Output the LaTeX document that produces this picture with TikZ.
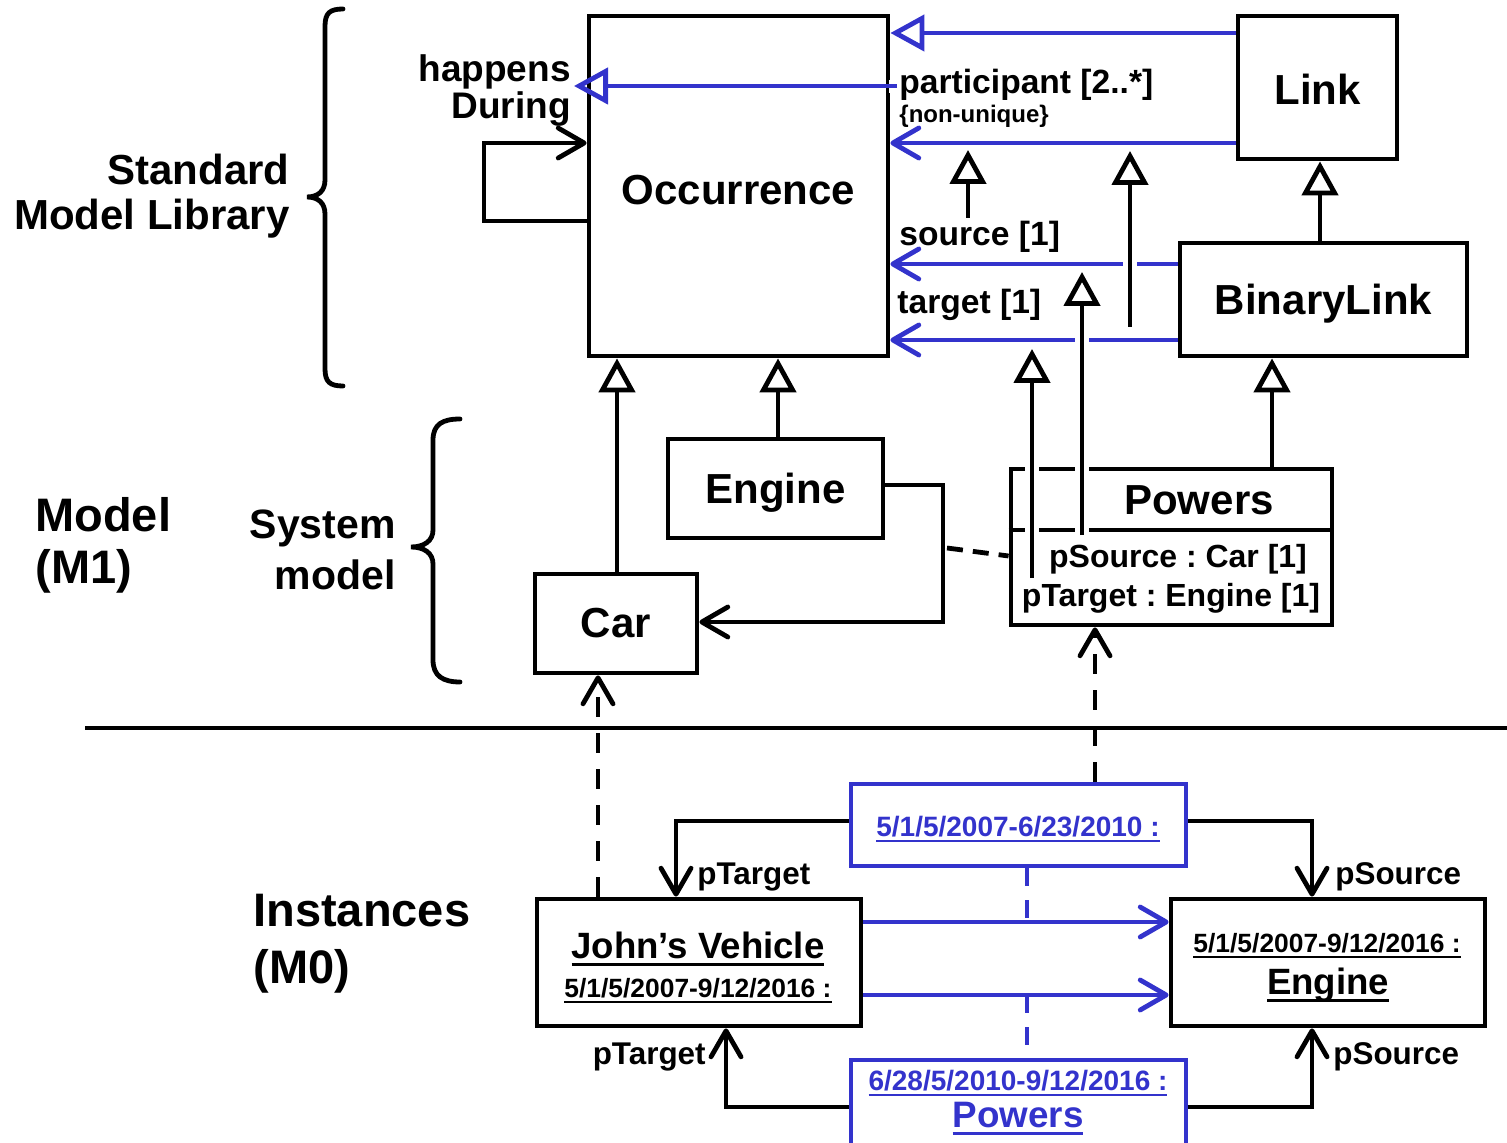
\documentclass[tikz,border=0pt]{standalone}
\usepackage{fontspec}
\setmainfont{Liberation Sans}
\usetikzlibrary{arrows.meta}
\definecolor{ublue}{RGB}{51,51,204}
\frenchspacing
\newcommand\uln[1]{\leavevmode\setbox0\hbox{#1}\rlap{\rule[-0.2em]{\wd0}{0.08em}}\box0}
\newcommand\fsz[2]{\fontsize{#1pt}{#2pt}\selectfont\bfseries}
\begin{document}
\begin{tikzpicture}[x=0.5pt,y=-0.5pt,
  box/.style={draw, line width=2.4pt, inner sep=0pt, font=\fsz{21}{25}, text height=15pt, text depth=0pt},
  bbox/.style={draw=ublue, line width=2.4pt, inner sep=0pt},
  ln/.style={line width=2.4pt},
  bl/.style={line width=2.4pt, draw=ublue},
  assoc/.style={-{Straight Barb[length=13pt,width=15pt,round]}},
  gen/.style={-{Triangle[open,length=17pt,width=18pt]}, line join=miter},
  dsh/.style={dash pattern=on 10pt off 8pt},
  txt/.style={inner sep=0pt},
  gap/.style={draw=white, line width=7pt}
]
\useasboundingbox (0,0) rectangle (1507,1143);

% ---------- boxes M2/M1 ----------
\node[box, minimum width=149.5pt, minimum height=170pt, text height=19pt] (occ) at (738.5,186) {Occurrence};
\node[box, minimum width=79.5pt, minimum height=71.5pt, text height=17pt] (link) at (1317.5,87.5) {Link};
\node[box, minimum width=143.5pt, minimum height=56.5pt] (blink) at (1323.5,299.5) {BinaryLink};
\node[box, minimum width=107.5pt, minimum height=49.5pt] (engine) at (775.5,488.5) {Engine};
\node[box, minimum width=81pt, minimum height=49.5pt, text height=13.5pt] (car) at (616,623.5) {Car};
\node[box, minimum width=160.5pt, minimum height=78pt] (powers) at (1171.5,547) {};
\draw[ln] (powers.west |- 0,530) -- (powers.east |- 0,530);
\node[txt, font=\fsz{21}{25}] (pwname) at (1199,500) {Powers};
\node[txt, font=\fsz{16}{19}] (psrc) at (1178,559) {pSource : Car [1]};
\node[txt, font=\fsz{16}{19}] (ptgt) at (1171,598) {pTarget : Engine [1]};

% ---------- side labels ----------
\node[txt, font=\fsz{21}{22.5}, align=right, anchor=east] (sml) at (290,196) {Standard\\Model Library};
\node[txt, font=\fsz{23.5}{26}, align=left, anchor=west] (m1) at (35,545) {Model\\(M1)};
\node[txt, font=\fsz{20.5}{25.5}, align=right, anchor=east] (sysm) at (396,550) {System\\model};
\node[txt, font=\fsz{23.5}{28.5}, align=left, anchor=west] (m0) at (253,944) {Instances\\(M0)};

% braces
\draw[ln, line cap=round] (343,9) .. controls (330,9) and (325,13) .. (325,26) -- (325,180)
  .. controls (325,191) and (318,197) .. (307,197)
  .. controls (318,197) and (325,203) .. (325,214) -- (325,369)
  .. controls (325,382) and (330,386) .. (343,386);
\draw[ln, line cap=round] (460,419) .. controls (443,419) and (433,424) .. (433,440) -- (433,530)
  .. controls (433,541) and (424,547) .. (411,547)
  .. controls (424,547) and (433,553) .. (433,564) -- (433,660)
  .. controls (433,676) and (443,682) .. (460,682);

% ---------- relationships to Occurrence ----------
\draw[bl, gen] (link.west |- 0,33) -- (occ.east |- 0,33);
\draw[bl, assoc] (link.west |- 0,143) -- (occ.east |- 0,143);
\node[txt, font=\fsz{16.8}{19}, anchor=west] (partl) at (899,85) {participant [2..*]};
\node[txt, font=\fsz{12}{14}, anchor=west] (nonu) at (899,116) {\{non-unique\}};
\coordinate (hdstart) at (897,86);
\coordinate (hdtip) at (574,86);
\draw[gap, line width=6.5pt] (889,86.5) -- (891,86.5);
\draw[bl, gen] (hdstart) -- (hdtip);
\node[txt, font=\fsz{18.5}{18.5}, align=right, anchor=east] (hd) at (571,91) {happens\\During};
\draw[ln, assoc] (occ.west |- 0,221) -- (484,221) -- (484,143) -- (occ.west |- 0,143);

\draw[bl, assoc] (blink.west |- 0,264) -- (occ.east |- 0,264);
\draw[bl, assoc] (blink.west |- 0,340) -- (occ.east |- 0,340);
\node[txt, font=\fsz{16.8}{19}, anchor=west] (srcl) at (899,237) {source [1]};
\node[txt, font=\fsz{16.8}{19}, anchor=west] (tgtl) at (897,305) {target [1]};

% gaps where black lines cross
\draw[gap] (1130,258) -- (1130,270);
\draw[gap] (1082,334) -- (1082,346);
\draw[gap] (1032,462) -- (1032,473);
\draw[gap] (1082,462) -- (1082,473);
\draw[gap] (1032,525) -- (1032,536);
\draw[gap] (1082,525) -- (1082,536);

\coordinate (s1) at (968,218);
\coordinate (s1t) at (968,150);
\draw[ln, gen] (s1) -- (s1t);
\coordinate (t1) at (1130,327);
\coordinate (t1t) at (1130,151);
\draw[ln, gen] (t1) -- (t1t);
\coordinate (ps1) at (1082,535);
\coordinate (ps1t) at (1082,272);
\draw[ln, gen] (ps1) -- (ps1t);
\coordinate (pt1) at (1032,578);
\coordinate (pt1t) at (1032,349);
\draw[ln, gen] (pt1) -- (pt1t);

\draw[ln, gen] (blink.north -| 1320,0) -- (link.south -| 1320,0);
\draw[ln, gen] (powers.north -| 1272,0) -- (blink.south -| 1272,0);
\draw[ln, gen] (car.north -| 617,0) -- (occ.south -| 617,0);
\draw[ln, gen] (engine.north -| 778,0) -- (occ.south -| 778,0);

\draw[ln, assoc] (engine.east |- 0,485) -- (943,485) -- (943,622) -- (car.east |- 0,622);
\coordinate (acl) at (947,548);
\draw[ln, dash pattern=on 8pt off 5pt] (acl) -- (powers.west |- 0,556);

% separator
\coordinate (sepL) at (85,728);
\coordinate (sepR) at (1507,728);
\draw[ln] (sepL) -- (sepR);

% ---------- instances ----------
\node[box, minimum width=162pt, minimum height=63.5pt] (john) at (699,962.5) {};
\node[box, minimum width=157pt, minimum height=63.5pt] (eng0) at (1328,962.5) {};
\node[bbox, minimum width=167.5pt, minimum height=41pt] (lk1) at (1018.5,825) {};
\node[bbox, minimum width=167.5pt, minimum height=50pt] (lk2) at (1018.5,1110) {};

\node[txt, font=\fsz{18.3}{20}] (jvn) at (698,949) {\uln{John’s Vehicle}};
\node[txt, font=\fsz{13.2}{15}] (jvd) at (698,991) {\uln{5/1/5/2007-9/12/2016 :}};
\node[txt, font=\fsz{13.2}{15}] (e0d) at (1327,946) {\uln{5/1/5/2007-9/12/2016 :}};
\node[txt, font=\fsz{18.3}{20}] (e0n) at (1328,985) {\uln{Engine}};
\node[txt, font=\fsz{14}{16}, text=ublue] (l1d) at (1018,829) {\uln{5/1/5/2007-6/23/2010 :}};
\node[txt, font=\fsz{14}{16}, text=ublue] (l2d) at (1018,1083) {\uln{6/28/5/2010-9/12/2016 :}};
\node[txt, font=\fsz{18.4}{20}, text=ublue] (l2n) at (1018,1119) {\uln{Powers}};

\draw[ln, dsh, assoc] (john.north -| 598,0) -- (car.south -| 598,0);
\draw[ln, dsh, assoc] (lk1.north -| 1095,0) -- (powers.south -| 1095,0);

\draw[bl, assoc] (john.east |- 0,922) -- (eng0.west |- 0,922);
\draw[bl, assoc] (john.east |- 0,995) -- (eng0.west |- 0,995);
\coordinate (d1) at (1027,922);
\coordinate (d2) at (1027,995);
\draw[bl, dash pattern=on 9pt off 7pt] (lk1.south -| 1027,0) -- (d1);
\draw[bl, dash pattern=on 9pt off 7pt] (d2) -- (lk2.north -| 1027,0);

\draw[ln, assoc] (lk1.west |- 0,821) -| (john.north -| 676,0);
\draw[ln, assoc] (lk1.east |- 0,821) -| (eng0.north -| 1312,0);
\draw[ln, assoc] (lk2.west |- 0,1107) -| (john.south -| 726,0);
\draw[ln, assoc] (lk2.east |- 0,1107) -| (eng0.south -| 1312,0);

\node[txt, font=\fsz{15.7}{18}, anchor=west] (lpt1) at (697,877) {pTarget};
\node[txt, font=\fsz{15.7}{18}, anchor=west] (lps1) at (1335,877) {pSource};
\node[txt, font=\fsz{15.7}{18}, anchor=east] (lpt2) at (706,1057) {pTarget};
\node[txt, font=\fsz{15.7}{18}, anchor=west] (lps2) at (1333,1057) {pSource};
\end{tikzpicture}
\end{document}
